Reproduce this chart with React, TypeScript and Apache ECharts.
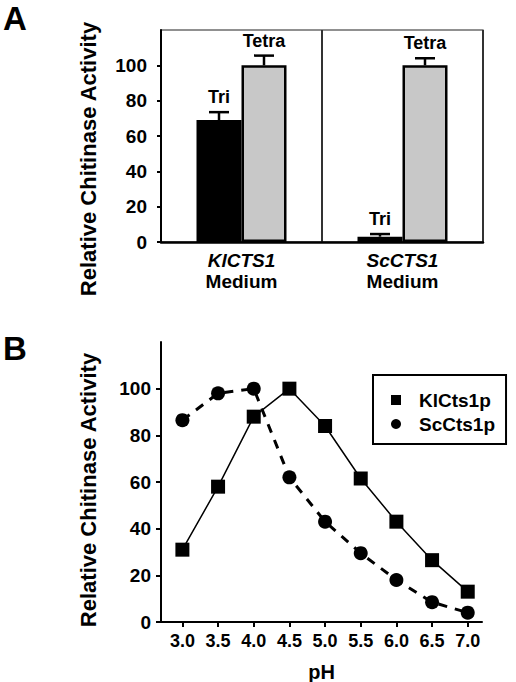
import React, { useEffect, useRef } from 'react';
import * as echarts from 'echarts';

// ---- Panel A data ----
const strains = ['KlCTS1', 'ScCTS1'];
const mediumLabel = 'Medium';
const triValues = [69, 3];
const triErrors = [4.5, 1.5];
const tetraValues = [100, 100];
const tetraErrors = [5.5, 4];
const yTicksA = [0, 20, 40, 60, 80, 100];

// ---- Panel B data ----
const phValues = [3.0, 3.5, 4.0, 4.5, 5.0, 5.5, 6.0, 6.5, 7.0];
const klCts1p = [31, 58, 88, 100, 84, 61.5, 43, 26.5, 13];
const scCts1p = [86.5, 98, 100, 62, 43, 29.5, 18, 8.5, 4];
const yTicksB = [0, 20, 40, 60, 80, 100];

const FONT = '"Liberation Sans", Arial, Helvetica, sans-serif';
const yTitle = 'Relative Chitinase Activity';

function makeErrorBar(offset: number, label: string) {
  return (params: any, api: any) => {
    const i = api.value(0);
    const v = api.value(1);
    const e = api.value(2);
    const base = api.coord([i, v]);
    const top = api.coord([i, v + e]);
    const x = base[0] + offset;
    return {
      type: 'group',
      children: [
        { type: 'line', shape: { x1: x, y1: base[1], x2: x, y2: top[1] }, style: { stroke: '#000', lineWidth: 2.5 } },
        { type: 'line', shape: { x1: x - 10, y1: top[1], x2: x + 10, y2: top[1] }, style: { stroke: '#000', lineWidth: 2.5 } },
        {
          type: 'text',
          x: x,
          y: top[1] - 6,
          style: { text: label, align: 'center', verticalAlign: 'bottom', fontSize: 18, fontWeight: 'bold', fontFamily: FONT, fill: '#000' },
        },
      ],
    };
  };
}

export default function App() {
  const ref = useRef<HTMLDivElement>(null);
  useEffect(() => {
    document.body.style.margin = '0';
    if (!ref.current) return;
    const chart = echarts.init(ref.current, undefined, { renderer: 'svg' });
    const labelStyle = { color: '#000', fontFamily: FONT, fontWeight: 'bold' as const };
    const option: any = {
      animation: false,
      textStyle: { fontFamily: FONT },
      grid: [
        { left: 161, right: 33, top: 30, bottom: 440, show: true, borderColor: '#222', borderWidth: 1.2, outerBoundsMode: 'none' },
        { left: 161, right: 34, top: 342, bottom: 60, outerBoundsMode: 'none' },
      ],
      xAxis: [
        {
          gridIndex: 0,
          type: 'category',
          data: strains,
          axisLine: { lineStyle: { color: '#000', width: 2.5 } },
          axisTick: { show: false },
          splitLine: { show: true, lineStyle: { color: '#333', width: 2 } },
          axisLabel: {
            margin: 8,
            formatter: (v: string) => `{i|${v}}\n{n|${mediumLabel}}`,
            rich: {
              i: { ...labelStyle, fontStyle: 'italic', fontSize: 19, lineHeight: 21 },
              n: { ...labelStyle, fontSize: 19, lineHeight: 21 },
            },
          },
        },
        {
          gridIndex: 1,
          type: 'value',
          min: 2.7,
          max: 7.2,
          axisLine: { lineStyle: { color: '#000', width: 2 } },
          axisTick: { show: true, customValues: phValues, length: 5, lineStyle: { color: '#000', width: 2 } },
          axisLabel: { ...labelStyle, customValues: phValues, formatter: (v: number) => v.toFixed(1), fontSize: 18, margin: 10 },
          splitLine: { show: false },
          name: 'pH',
          nameLocation: 'middle',
          nameGap: 40,
          nameTextStyle: { ...labelStyle, fontSize: 20 },
        },
      ],
      yAxis: [
        {
          gridIndex: 0,
          type: 'value',
          min: 0,
          max: 120,
          interval: 20,
          axisLine: { show: true, lineStyle: { color: '#000', width: 2 } },
          axisTick: { show: true, customValues: yTicksA, length: 4, lineStyle: { color: '#000', width: 2 } },
          axisLabel: { ...labelStyle, customValues: yTicksA, fontSize: 19, margin: 14 },
          splitLine: { show: false },
        },
        {
          gridIndex: 1,
          type: 'value',
          min: 0,
          max: 120,
          interval: 20,
          axisLine: { show: true, lineStyle: { color: '#000', width: 2 } },
          axisTick: { show: true, customValues: yTicksB, length: 5, lineStyle: { color: '#000', width: 2 } },
          axisLabel: { ...labelStyle, customValues: yTicksB, fontSize: 19, margin: 10 },
          splitLine: { show: false },
        },
      ],
      legend: {
        left: 373,
        top: 375,
        orient: 'vertical',
        borderColor: '#000',
        borderWidth: 2,
        padding: [15, 11, 10, 18],
        itemWidth: 10,
        itemHeight: 10,
        itemGap: 4,
        textStyle: { ...labelStyle, fontSize: 19, lineHeight: 20, padding: [0, 0, 0, 13] },
        data: [
          { name: 'KlCts1p', icon: 'rect' },
          { name: 'ScCts1p', icon: 'circle' },
        ],
      },
      graphic: [
        { type: 'text', left: 3, top: 2, style: { text: 'A', fontSize: 33, fontWeight: 'bold', fontFamily: FONT, fill: '#000' } },
        { type: 'text', left: 3, top: 332, style: { text: 'B', fontSize: 33, fontWeight: 'bold', fontFamily: FONT, fill: '#000' } },
        { type: 'text', x: 88, y: 159, rotation: Math.PI / 2, style: { text: yTitle, align: 'center', verticalAlign: 'middle', fontSize: 22, fontWeight: 'bold', fontFamily: FONT, fill: '#000' } },
        { type: 'text', x: 88, y: 490, rotation: Math.PI / 2, style: { text: yTitle, align: 'center', verticalAlign: 'middle', fontSize: 22, fontWeight: 'bold', fontFamily: FONT, fill: '#000' } },
      ],
      series: [
        {
          type: 'bar',
          name: 'Tri',
          xAxisIndex: 0,
          yAxisIndex: 0,
          data: triValues,
          barWidth: 45,
          barGap: '0%',
          itemStyle: { color: '#000', borderColor: '#000', borderWidth: 2 },
        },
        {
          type: 'bar',
          name: 'Tetra',
          xAxisIndex: 0,
          yAxisIndex: 0,
          data: tetraValues,
          barWidth: 45,
          barGap: '0%',
          itemStyle: { color: '#c8c8c8', borderColor: '#000', borderWidth: 2.5 },
        },
        {
          type: 'custom',
          name: 'TriErr',
          xAxisIndex: 0,
          yAxisIndex: 0,
          z: 5,
          renderItem: makeErrorBar(-22.5, 'Tri'),
          data: triValues.map((v, i) => [i, v, triErrors[i]]),
        },
        {
          type: 'custom',
          name: 'TetraErr',
          xAxisIndex: 0,
          yAxisIndex: 0,
          z: 5,
          renderItem: makeErrorBar(22.5, 'Tetra'),
          data: tetraValues.map((v, i) => [i, v, tetraErrors[i]]),
        },
        {
          type: 'line',
          name: 'KlCts1p',
          xAxisIndex: 1,
          yAxisIndex: 1,
          data: phValues.map((p, i) => [p, klCts1p[i]]),
          symbol: 'rect',
          symbolSize: 14,
          itemStyle: { color: '#000' },
          lineStyle: { color: '#000', width: 1.5 },
          z: 3,
        },
        {
          type: 'line',
          name: 'ScCts1p',
          xAxisIndex: 1,
          yAxisIndex: 1,
          data: phValues.map((p, i) => [p, scCts1p[i]]),
          symbol: 'circle',
          symbolSize: 14,
          itemStyle: { color: '#000' },
          lineStyle: { color: '#000', width: 3, type: [9, 8] },
          z: 2,
        },
      ],
    };
    chart.setOption(option);
    return () => chart.dispose();
  }, []);
  return <div ref={ref} style={{ width: 516, height: 682 }} />;
}
